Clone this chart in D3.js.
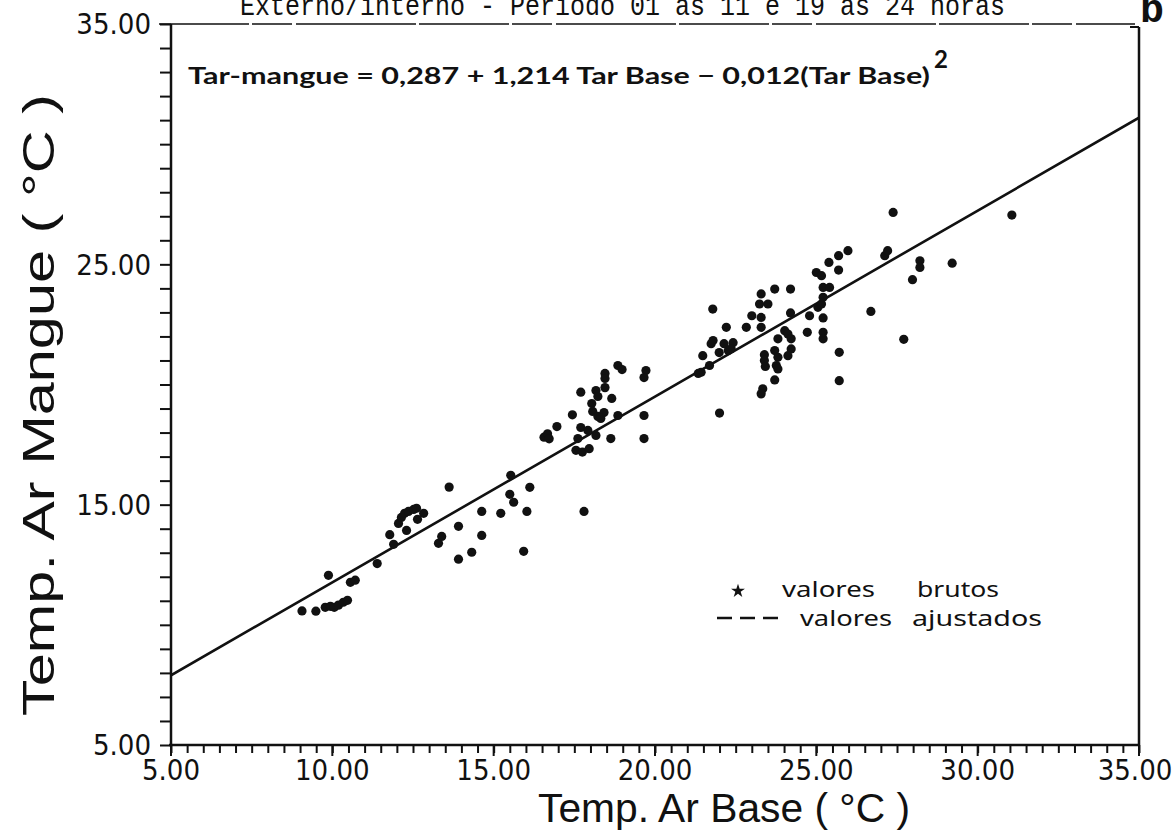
<!DOCTYPE html>
<html>
<head>
<meta charset="utf-8">
<script src="https://cdn.jsdelivr.net/npm/d3@7/dist/d3.min.js"></script>
<style>
  html, body { margin: 0; padding: 0; background: #fff; }
  svg { display: block; }
</style>
</head>
<body>
<script>
// ---------------- data ----------------
const baseTemp = [
  9.06, 9.49, 9.78, 9.94, 10.06, 10.19, 10.34, 10.47, 9.88, 10.56, 10.71, 11.39, 11.78, 11.90,
  12.05, 12.14, 12.24, 12.36, 12.52, 12.61, 12.64, 12.83, 12.30, 13.62, 13.29, 13.39, 13.91, 13.91,
  14.32, 14.63, 14.63, 15.22, 15.53, 15.50, 15.62, 16.12, 16.03, 15.93,
  16.56, 16.67, 16.72, 16.96, 17.44, 17.61, 17.70, 17.92, 18.17, 17.55, 17.75, 17.96, 17.70, 17.80,
  18.17, 18.23, 18.04, 18.07, 18.23, 18.42, 18.32, 18.45, 18.45, 18.45, 18.66, 18.85, 18.98, 18.85,
  18.63, 19.66, 19.66, 19.72, 19.66, 21.48, 21.43, 21.69, 21.34, 22.00, 21.74, 21.80, 21.99, 22.14,
  22.27, 22.42, 22.36, 21.79, 22.21, 22.83, 23.00, 23.29, 23.24, 23.50, 23.71, 24.20, 23.29, 23.29,
  24.20, 24.79, 24.72, 24.02, 24.12, 24.22, 23.81, 23.39, 23.39, 23.42, 23.71, 23.81, 23.76, 23.81,
  24.22, 24.12, 23.71, 23.34, 23.29, 25.05, 25.71, 25.71,
  25.00, 25.16, 25.39, 25.69, 25.98, 25.69, 25.21, 25.41, 25.21, 25.16, 25.21, 25.21, 25.21, 26.69,
  27.12, 27.21, 27.38, 27.71, 27.98, 28.21, 28.21, 29.21, 31.06
];
const mangueTemp = [
  10.58, 10.57, 10.73, 10.77, 10.73, 10.82, 10.94, 11.02, 12.06, 11.77, 11.86, 12.55, 13.75, 13.35,
  14.22, 14.47, 14.64, 14.72, 14.80, 14.85, 14.39, 14.64, 13.93, 15.73, 13.39, 13.68, 14.10, 12.73,
  13.02, 14.72, 13.72, 14.64, 16.22, 15.43, 15.10, 15.72, 14.72, 13.06,
  17.81, 17.95, 17.74, 18.25, 18.74, 17.75, 18.21, 18.09, 17.88, 17.26, 17.19, 17.33, 19.68, 14.72,
  19.75, 19.50, 19.21, 18.88, 18.67, 18.83, 18.59, 20.46, 20.25, 19.87, 19.42, 20.79, 20.62, 18.71,
  17.75, 18.71, 17.75, 20.58, 20.29, 21.20, 20.51, 20.79, 20.46, 18.81, 21.70, 21.83, 21.33, 21.70,
  21.41, 21.74, 21.49, 23.14, 22.38, 22.38, 22.86, 23.77, 23.35, 23.35, 23.97, 23.97, 22.79, 22.38,
  22.98, 22.86, 22.17, 22.24, 22.10, 21.90, 21.90, 21.24, 21.00, 20.75, 21.41, 21.13, 20.79, 20.65,
  21.48, 21.20, 20.19, 19.82, 19.61, 23.21, 21.34, 20.16,
  24.66, 24.53, 25.08, 25.36, 25.57, 24.76, 24.04, 24.04, 23.63, 23.35, 22.77, 22.17, 21.90, 23.04,
  25.36, 25.57, 27.16, 21.88, 24.36, 25.15, 24.87, 25.05, 27.05
];
// fitted curve as drawn in the figure
const fitBase = [5, 20, 35];
const fitMangue = [7.9, 19.5, 31.1];

const axisTicks = [5, 15, 25, 35];
const axisTickLabels = ["5.00", "15.00", "25.00", "35.00"];
const xTicksMajor = [5, 10, 15, 20, 25, 30, 35];
const xTickLabels = ["5.00", "10.00", "15.00", "20.00", "25.00", "30.00", "35.00"];

const titleText = "Externo/interno - Periodo 01 as 11 e 19 as 24 horas";
const panelLetter = "b";
const equationText = "Tar-mangue = 0,287 + 1,214  Tar Base \u2212 0,012(Tar Base)";
const xTitle = "Temp. Ar Base ( \u00B0C )";
const yTitle = "Temp. Ar Mangue ( \u00B0C )";
const legendRaw = ["valores", "brutos"];
const legendFit = ["valores", "ajustados"];

// ---------------- layout ----------------
const W = 1175, H = 831;
const svg = d3.select("body").append("svg").attr("width", W).attr("height", H);
svg.append("rect").attr("width", W).attr("height", H).attr("fill", "#fff");

const x = d3.scaleLinear().domain([5, 35]).range([171, 1139]);
const y = d3.scaleLinear().domain([5, 35]).range([745, 24]);

const numFont = "'Liberation Sans Narrow', 'DejaVu Sans Condensed', 'Liberation Sans', sans-serif";

// title (cut off at the top, as in the source scan)
svg.append("text").attr("x", 240).attr("y", 15)
  .attr("font-family", "'Liberation Mono', 'DejaVu Sans Mono', monospace")
  .attr("font-size", 30).attr("fill", "#111")
  .attr("textLength", 765).attr("lengthAdjust", "spacingAndGlyphs")
  .text(titleText);
svg.append("text").attr("x", 1152).attr("y", 22).attr("text-anchor", "middle")
  .attr("font-family", "'Liberation Mono', monospace").attr("font-weight", "bold")
  .attr("font-size", 40).attr("fill", "#111").text(panelLetter);

// clip
svg.append("clipPath").attr("id", "plotclip").append("rect")
  .attr("x", x(5)).attr("y", y(35)).attr("width", x(35) - x(5)).attr("height", y(5) - y(35));

// frame
const frame = svg.append("g").attr("stroke", "#111").attr("fill", "none");
frame.append("line").attr("x1", x(5)).attr("x2", x(5)).attr("y1", y(35)).attr("y2", y(5)).attr("stroke-width", 2.5);
frame.append("line").attr("x1", x(5) - 2).attr("x2", x(35)).attr("y1", y(5)).attr("y2", y(5)).attr("stroke-width", 2.5);
frame.append("line").attr("x1", x(35)).attr("x2", x(35)).attr("y1", y(35) + 3).attr("y2", y(5)).attr("stroke-width", 2.5);
frame.append("line").attr("x1", x(5) - 12).attr("x2", x(35) - 4).attr("y1", y(35)).attr("y2", y(35))
  .attr("stroke-width", 1.6).attr("stroke-dasharray", "90,3,40,4,120,3");
frame.append("line").attr("x1", x(35) - 9).attr("x2", x(35)).attr("y1", y(35) + 3).attr("y2", y(35) + 3).attr("stroke-width", 2);

// y axis (ticks each unit, pointing out)
const yAxis = d3.axisLeft(y).tickValues(d3.range(5, 36, 1)).tickSize(11).tickFormat("");
const gy = svg.append("g").attr("transform", `translate(${x(5)},0)`).call(yAxis);
gy.select(".domain").remove();
gy.selectAll(".tick line").attr("stroke", "#111").attr("stroke-width", 2);
axisTicks.forEach((v, i) => {
  svg.append("text").attr("x", 151).attr("y", y(v)).attr("dy", "0.36em")
    .attr("text-anchor", "end").attr("font-family", numFont).attr("font-size", 29)
    .attr("fill", "#111").text(axisTickLabels[i]);
});

// x axis (ticks each half unit, pointing down)
const xAxis = d3.axisBottom(x).tickValues(d3.range(5, 35.01, 0.5)).tickSize(8).tickFormat("");
const gx = svg.append("g").attr("transform", `translate(0,${y(5)})`).call(xAxis);
gx.select(".domain").remove();
gx.selectAll(".tick line").attr("stroke", "#111").attr("stroke-width", 2);
xTicksMajor.forEach((v, i) => {
  svg.append("line").attr("x1", x(v)).attr("x2", x(v)).attr("y1", y(5)).attr("y2", y(5) + 11)
    .attr("stroke", "#111").attr("stroke-width", 2);
  svg.append("text").attr("x", x(v) - (i === xTicksMajor.length - 1 ? 4 : 0)).attr("y", 780).attr("text-anchor", "middle")
    .attr("font-family", numFont).attr("font-size", 29).attr("fill", "#111")
    .text(xTickLabels[i]);
});

// axis titles
svg.append("text").attr("x", 724).attr("y", 822).attr("text-anchor", "middle")
  .attr("font-family", "'Liberation Sans', Arial, sans-serif").attr("font-size", 41)
  .attr("fill", "#111").attr("textLength", 372).attr("lengthAdjust", "spacingAndGlyphs")
  .text(xTitle);
svg.append("text").attr("transform", "translate(54,405) rotate(-90)").attr("text-anchor", "middle")
  .attr("font-family", "'Liberation Sans', Arial, sans-serif").attr("font-size", 44)
  .attr("fill", "#111").attr("textLength", 622).attr("lengthAdjust", "spacingAndGlyphs")
  .text(yTitle);

// equation
svg.append("text").attr("x", 188).attr("y", 84)
  .attr("font-family", "Lato, 'Open Sans', sans-serif").attr("font-weight", "bold")
  .attr("font-size", 22).attr("fill", "#111")
  .attr("textLength", 742).attr("lengthAdjust", "spacingAndGlyphs")
  .text(equationText);
svg.append("text").attr("x", 934).attr("y", 68)
  .attr("font-family", "Lato, sans-serif").attr("font-weight", "bold")
  .attr("font-size", 24).attr("fill", "#111").text("2");

// fitted line
const line = d3.line().x((d, i) => x(fitBase[i])).y(d => y(d));
svg.append("path").datum(fitMangue).attr("d", line)
  .attr("clip-path", "url(#plotclip)")
  .attr("fill", "none").attr("stroke", "#111").attr("stroke-width", 2.6);

// raw points
svg.append("g").selectAll("circle").data(baseTemp).join("circle")
  .attr("cx", d => x(d)).attr("cy", (d, i) => y(mangueTemp[i])).attr("r", 4.6)
  .attr("fill", "#111");

// legend
const lg = svg.append("g").attr("font-family", "'Noto Sans', 'Open Sans', sans-serif")
  .attr("font-size", 22).attr("fill", "#111");
lg.append("path").attr("d", d3.symbol(d3.symbolStar, 60)()).attr("transform", "translate(738,591)")
  .attr("fill", "#111");
lg.append("text").attr("x", 782).attr("y", 597).attr("textLength", 93).attr("lengthAdjust", "spacingAndGlyphs").text(legendRaw[0]);
lg.append("text").attr("x", 917).attr("y", 597).attr("textLength", 82).attr("lengthAdjust", "spacingAndGlyphs").text(legendRaw[1]);
lg.append("line").attr("x1", 717).attr("x2", 779).attr("y1", 618).attr("y2", 618)
  .attr("stroke", "#111").attr("stroke-width", 2.4).attr("stroke-dasharray", "15,8");
lg.append("text").attr("x", 800).attr("y", 626).attr("textLength", 92).attr("lengthAdjust", "spacingAndGlyphs").text(legendFit[0]);
lg.append("text").attr("x", 912).attr("y", 626).attr("textLength", 130).attr("lengthAdjust", "spacingAndGlyphs").text(legendFit[1]);
</script>
</body>
</html>
